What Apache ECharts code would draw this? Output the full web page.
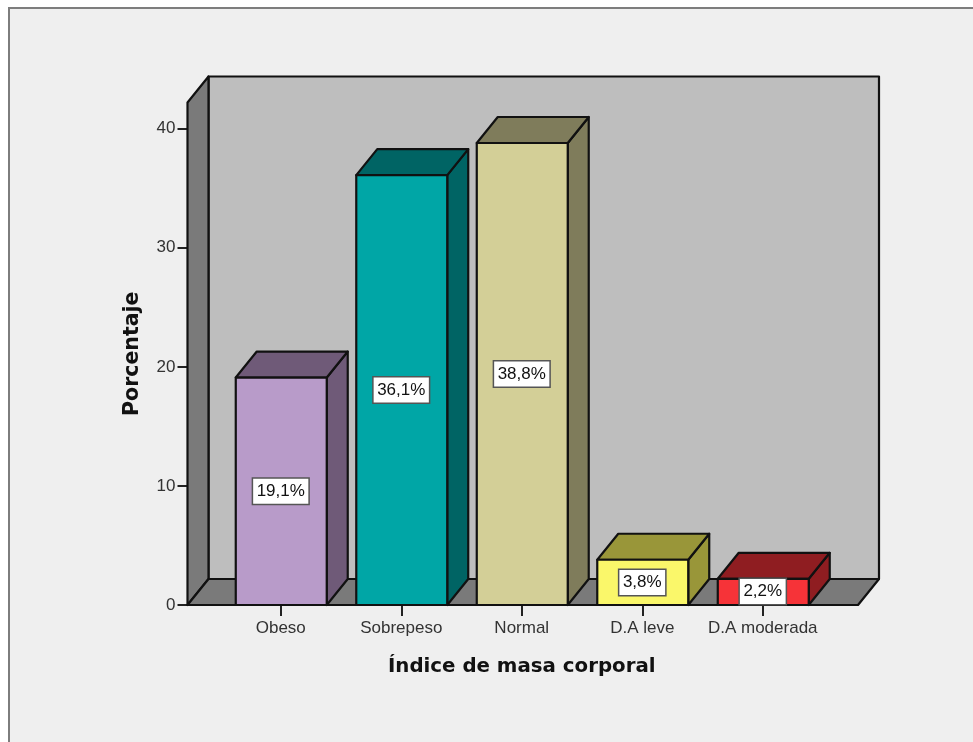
<!DOCTYPE html>
<html><head><meta charset="utf-8">
<style>html,body{margin:0;padding:0;background:#fff}#c{width:973px;height:742px}</style>
<script src="https://cdn.jsdelivr.net/npm/echarts@6/dist/echarts.min.js"></script>
</head><body><div id="c"></div>
<script>
const categories = ['Obeso','Sobrepeso','Normal','D.A leve','D.A moderada'];
const values = [19.1,36.1,38.8,3.8,2.2];
const labels = ['19,1%','36,1%','38,8%','3,8%','2,2%'];
const yTicks = [0,10,20,30,40];
const frontColors = ['#B89BC9','#00A6A6','#D3CF97','#FAF76A','#F63338'];
const sideColors = ['#6F5A78','#006464','#7F7C5B','#999639','#8F1D21'];
const yMax = 42.2;
const dx = 21, dy = -26, axisOut = 33, rightOut = 35;
const line = {stroke:'#111', lineWidth:2.2, lineJoin:'round'};
const font = '"Liberation Sans", Arial, sans-serif';
const titleFont = '"DejaVu Sans", Verdana, sans-serif';

function poly(points, fill){ return {type:'polygon', shape:{points}, style:Object.assign({fill}, line)}; }

function renderFrame(params, api){
  const cs = params.coordSys;
  const l = cs.x - axisOut, r = cs.x + cs.width + rightOut;
  const b = api.coord([0,0])[1], t = api.coord([0,yMax])[1];
  return {type:'group', children:[
    poly([[l+dx,t+dy],[r+dx,t+dy],[r+dx,b+dy],[l+dx,b+dy]],'#BEBEBE'),
    poly([[l,t],[l+dx,t+dy],[l+dx,b+dy],[l,b]],'#7A7A7A'),
    poly([[l,b],[l+dx,b+dy],[r+dx,b+dy],[r,b]],'#7A7A7A')
  ]};
}

function renderBar(params, api){
  const i = params.dataIndex;
  const v = api.value(1);
  const c = api.coord([i,v]), c0 = api.coord([i,0]);
  const w = api.size([1,0])[0]*0.755;
  const x0 = c[0]-w/2+0.5, x1 = x0+w, yT = c[1], yB = c0[1];
  const labelH = 27;
  const midY = Math.min((yT+yB)/2, yB-labelH/2);
  return {type:'group', children:[
    poly([[x1,yT],[x1+dx,yT+dy],[x1+dx,yB+dy],[x1,yB]], sideColors[i]),
    poly([[x0,yT],[x0+dx,yT+dy],[x1+dx,yT+dy],[x1,yT]], sideColors[i]),
    {type:'rect', shape:{x:x0,y:yT,width:w,height:yB-yT}, style:Object.assign({fill:frontColors[i]}, line)},
    {type:'text', z2:10, x:c[0], y:midY, style:{
      text:labels[i], x:0, y:0, align:'center', verticalAlign:'middle',
      font:'17px '+font, fill:'#111', backgroundColor:'#fff',
      borderColor:'#555', borderWidth:1.5, padding:[4,3.5,4,3.5]
    }}
  ]};
}

const chart = echarts.init(document.getElementById('c'), null, {renderer:'canvas'});
chart.setOption({
  animation:false,
  backgroundColor:'#fff',
  graphic:[{type:'rect', z:-10, silent:true, shape:{x:9,y:8,width:1000,height:800},
    style:{fill:'#EFEFEF', stroke:'#7d7d7d', lineWidth:2}}],
  grid:{left:220.5, width:602.5, top:102.5, height:502.5},
  xAxis:{type:'category', data:categories,
    axisLine:{show:false},
    axisTick:{show:true, alignWithLabel:true, length:11, lineStyle:{color:'#222',width:2}},
    axisLabel:{color:'#333', fontFamily:font, fontSize:17, margin:15, interval:0},
    name:'Índice de masa corporal', nameLocation:'middle', nameGap:52,
    nameTextStyle:{fontFamily:titleFont, fontWeight:'bold', fontSize:19.8, color:'#111'}},
  yAxis:{type:'value', min:0, max:yMax, offset:axisOut, interval:10,
    splitLine:{show:false}, axisLine:{show:false},
    axisTick:{show:true, length:10, customValues:yTicks, lineStyle:{color:'#222',width:2}},
    axisLabel:{color:'#333', fontFamily:font, fontSize:17, margin:12, padding:[6,0,0,0], customValues:yTicks},
    name:'Porcentaje', nameLocation:'middle', nameGap:44,
    nameTextStyle:{fontFamily:titleFont, fontWeight:'bold', fontSize:20.5, color:'#111'}},
  series:[
    {type:'custom', z:1, clip:false, silent:true, renderItem:renderFrame, data:[[0,0]]},
    {type:'custom', z:3, clip:false, renderItem:renderBar,
     encode:{x:0,y:1}, data:values.map((v,i)=>[i,v])}
  ]
});
</script></body></html>
